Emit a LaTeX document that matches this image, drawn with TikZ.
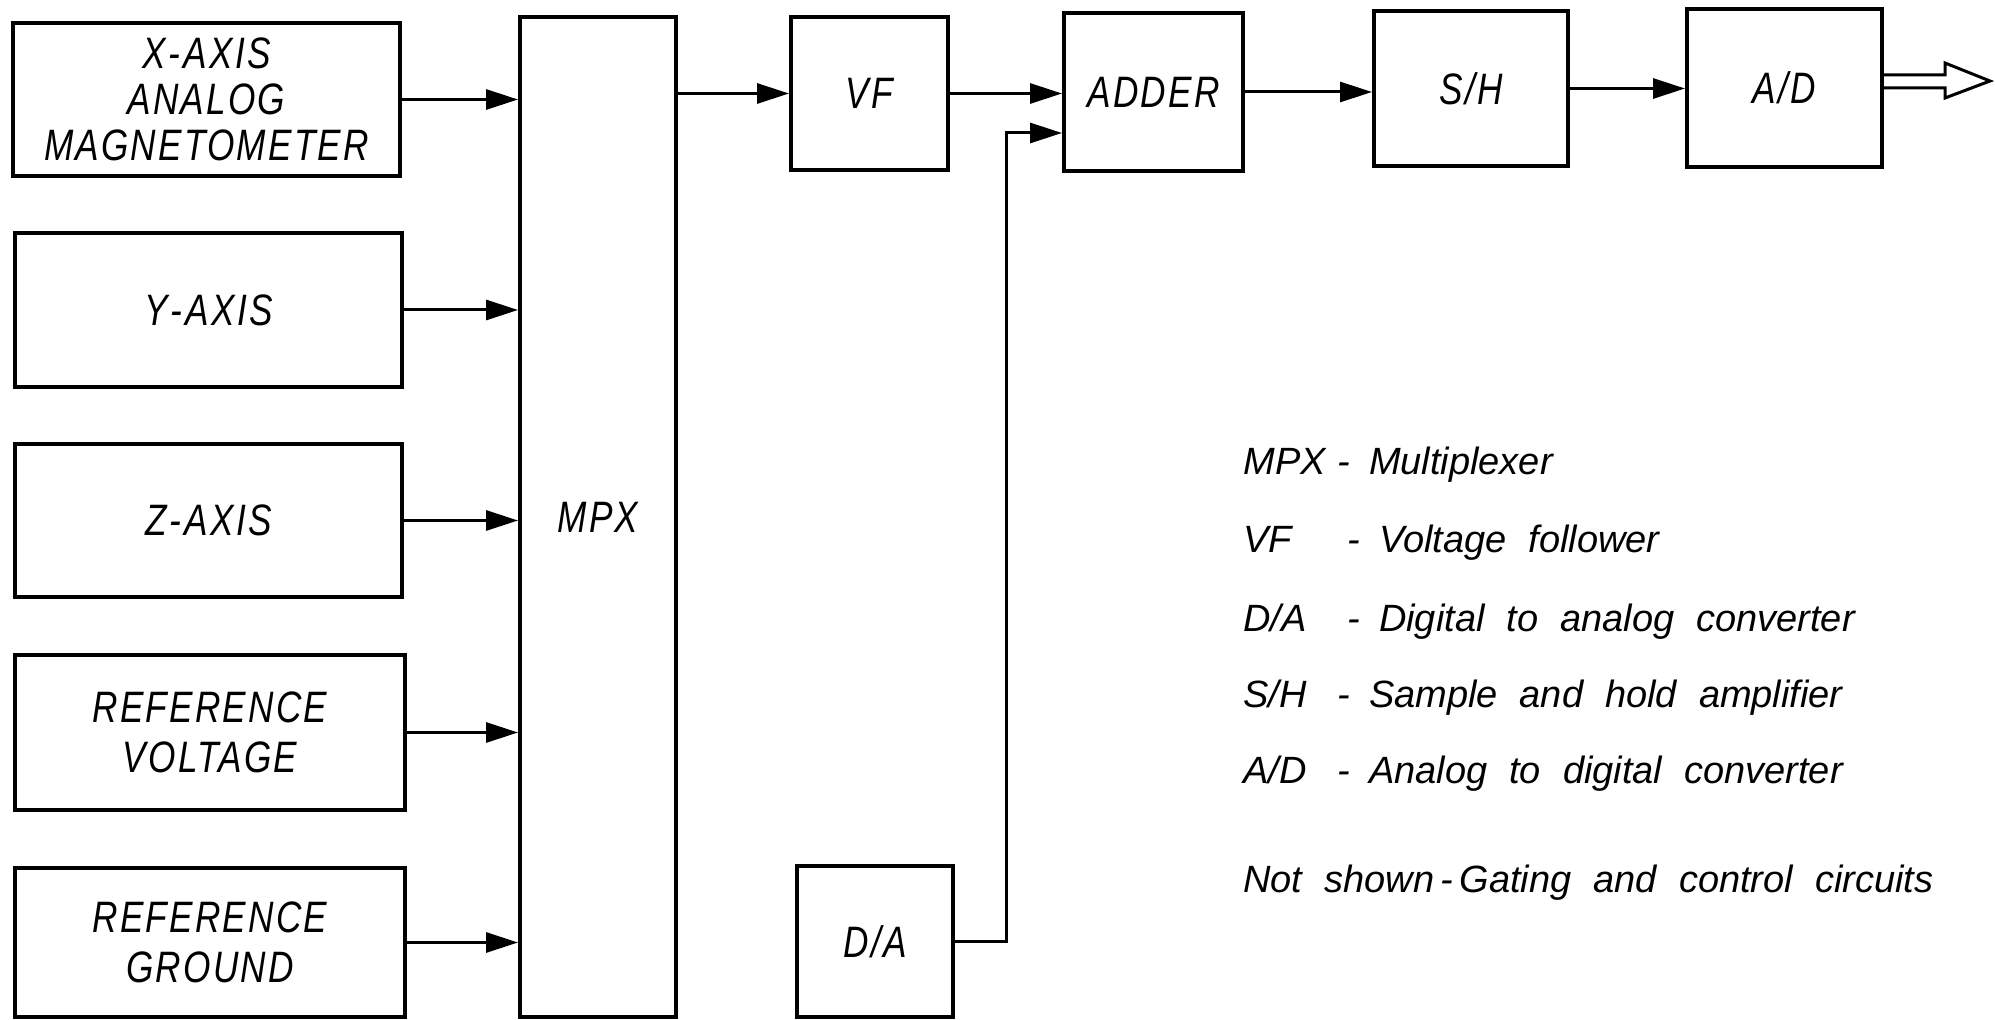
\documentclass[tikz,border=0pt]{standalone}
\usepackage{fontspec}
\setmainfont{Liberation Sans}
\newfontfamily\boxfont{Liberation Sans}[FakeStretch=0.8,LetterSpace=5]
\newfontfamily\legfont{Liberation Sans}
\usetikzlibrary{arrows.meta,calc}
\newcommand\leglab[1]{\makebox[47pt][l]{#1}}
\newcommand\hy{\kern1.5pt-\kern1.5pt}
\newcommand\widesp{\spaceskip=11pt\relax}
\begin{document}
\begin{tikzpicture}[x=0.5pt,y=-0.5pt,
  blk/.style={draw, line width=2pt, inner sep=0pt, align=center,
    font=\boxfont\itshape\fontsize{22}{23}\selectfont},
  conn/.style={line width=1.5pt, -{Triangle[length=16pt,width=10pt]}},
  leg/.style={anchor=base west, inner sep=0pt,
    font=\legfont\itshape\fontsize{19}{20}\selectfont}]
\useasboundingbox (0,0) rectangle (1995,1020);
% input boxes
\node[blk, minimum width=193.5pt, minimum height=76.5pt] (xa) at (206.5,99.5) {X\hy AXIS\\ANALOG\\MAGNETOMETER};
\node[blk, minimum width=193.5pt, minimum height=77pt] (ya) at (208.5,310) {Y\hy AXIS};
\node[blk, minimum width=193.5pt, minimum height=76.5pt] (za) at (208.5,520.5) {Z\hy AXIS};
\node[blk, minimum width=195pt, minimum height=77.5pt, font=\boxfont\itshape\fontsize{22}{25}\selectfont] (rv) at (210,732.5) {REFERENCE\\VOLTAGE};
\node[blk, minimum width=195pt, minimum height=74.5pt, font=\boxfont\itshape\fontsize{22}{25}\selectfont] (rg) at (210,942.5) {REFERENCE\\GROUND};
% processing chain
\node[blk, minimum width=78pt, minimum height=500pt] (mpx) at (598,517) {MPX};
\node[blk, minimum width=78.5pt, minimum height=76.5pt] (vf) at (869.5,93.5) {VF};
\node[blk, minimum width=89.5pt, minimum height=79pt] (adder) at (1153.5,92) {ADDER};
\node[blk, minimum width=97pt, minimum height=77.5pt] (sh) at (1471,88.5) {S/H};
\node[blk, minimum width=97.5pt, minimum height=79pt] (ad) at (1784.5,88) {A/D};
\node[blk, minimum width=78pt, minimum height=75.5pt] (da) at (875,941.5) {D/A};
% connectors
\draw[conn] (xa.east) -- (xa.east -| mpx.west);
\draw[conn] (ya.east) -- (ya.east -| mpx.west);
\draw[conn] (za.east) -- (za.east -| mpx.west);
\draw[conn] (rv.east) -- (rv.east -| mpx.west);
\draw[conn] (rg.east) -- (rg.east -| mpx.west);
\draw[conn] (mpx.east |- vf.west) -- (vf.west);
\draw[conn] (vf.east) -- (vf.east -| adder.west);
\coordinate (bend) at (1006,133);
\draw[conn] (da.east) -| (bend) -- (bend -| adder.west);
\draw[conn] (adder.east) -- (adder.east -| sh.west);
\draw[conn] (sh.east) -- (sh.east -| ad.west);
% hollow output arrow
\coordinate (tip) at (1990,81);
\draw[line width=1.5pt, line join=miter] (ad.east |- 0,75) -- (1945,75) -- (1945,63) -- (tip) -- (1945,98) -- (1945,88) -- (ad.east |- 0,88);
% legend
\node[leg] (l1) at (1243,475) {\widesp\leglab{MPX}-\enspace Multiplexer};
\node[leg] (l2) at (1243,553) {\widesp\leglab{VF}\hspace{5pt}-\enspace Voltage follower};
\node[leg] (l3) at (1243,632) {\widesp\leglab{D/A}\hspace{5pt}-\enspace Digital to analog converter};
\node[leg] (l4) at (1243,707) {\widesp\leglab{S/H}-\enspace Sample and hold amplifier};
\node[leg] (l5) at (1243,783) {\widesp\leglab{A/D}-\enspace Analog to digital converter};
\node[leg] (l6) at (1243,892) {\widesp Not shown\,-\,Gating and control circuits};
\end{tikzpicture}
\end{document}
